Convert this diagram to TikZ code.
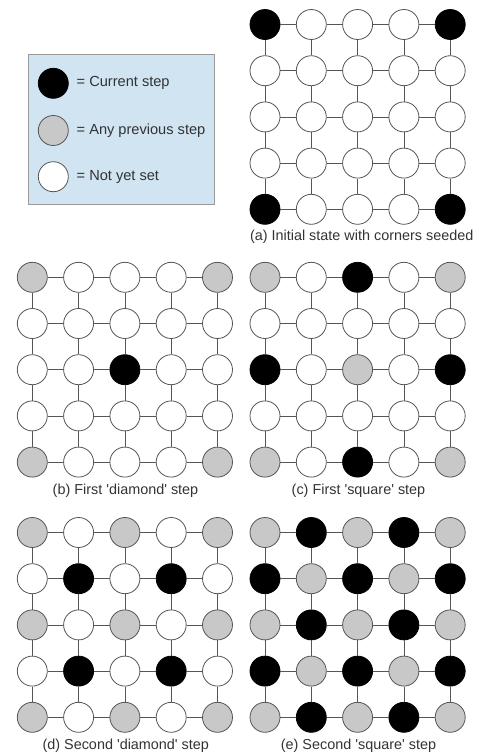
\documentclass[tikz,border=0pt]{standalone}
\usepackage{fontspec}
\setmainfont{Liberation Sans}
\definecolor{legendfill}{HTML}{D0E4F2}
\definecolor{legendline}{HTML}{9A9A9A}
\definecolor{prevgray}{HTML}{C8C8C8}
\definecolor{edgegray}{HTML}{555555}
\definecolor{txt}{HTML}{333333}
\newcommand{\sq}{\textquotesingle}
\begin{document}
\begin{tikzpicture}[x=1pt,y=-1pt,
  cell/.style={circle,draw=edgegray,line width=0.8pt,minimum size=30pt,inner sep=0pt},
  cw/.style={cell,fill=white},
  cg/.style={cell,fill=prevgray},
  cb/.style={cell,fill=black,draw=black},
  link/.style={draw=edgegray,line width=0.8pt},
  caption/.style={font=\fontsize{14.4}{16}\selectfont,text=txt,inner sep=0pt},
  legtext/.style={font=\fontsize{14.6}{17}\selectfont,text=txt,anchor=west,inner sep=0pt}]
\useasboundingbox (0,0) rectangle (479,756);

% legend
\node[draw=legendline,fill=legendfill,line width=0.7pt,minimum width=185.7pt,minimum height=150pt,inner sep=0pt,anchor=north west] (legend) at (28.3,54) {};
\node[cb] (L1) at (53.3,83.3) {};
\node[cg] (L2) at (53.3,130.5) {};
\node[cw] (L3) at (53.3,176.7) {};
\node[legtext] (T1) at (76.5,83.3) {= Current step};
\node[legtext] (T2) at (76.5,130.5) {= Any previous step};
\node[legtext] (T3) at (76.5,176.7) {= Not yet set};

\newcommand{\drawgrid}[4]{%
  \foreach \s [count=\i from 0] in {#4} {%
    \pgfmathtruncatemacro\rr{int(\i/5)}%
    \pgfmathtruncatemacro\cc{mod(\i,5)}%
    \node[\s] (#1-\rr-\cc) at ({#2+\cc*46.3},{#3+\rr*46.2}) {};
  }%
  \foreach \rr in {0,...,4} {\foreach \cc [evaluate=\cc as \nn using int(\cc+1)] in {0,...,3} {%
    \path[link] (#1-\rr-\cc) -- (#1-\rr-\nn);
    \path[link] (#1-\cc-\rr) -- (#1-\nn-\rr);
  }}%
}

% (a)
\drawgrid{A}{265}{24.5}{cb,cw,cw,cw,cb, cw,cw,cw,cw,cw, cw,cw,cw,cw,cw, cw,cw,cw,cw,cw, cb,cw,cw,cw,cb}
\node[caption] (capA) at (361.7,237) {(a) Initial state with corners seeded};

% (b)
\drawgrid{B}{32.3}{277.3}{cg,cw,cw,cw,cg, cw,cw,cw,cw,cw, cw,cw,cb,cw,cw, cw,cw,cw,cw,cw, cg,cw,cw,cw,cg}
\node[caption] (capB) at (125.5,491) {(b) First \sq diamond\sq{} step};

% (c)
\drawgrid{C}{265}{277.3}{cg,cw,cb,cw,cg, cw,cw,cw,cw,cw, cb,cw,cg,cw,cb, cw,cw,cw,cw,cw, cg,cw,cb,cw,cg}
\node[caption] (capC) at (358.5,491) {(c) First \sq square\sq{} step};

% (d)
\drawgrid{D}{32.3}{532.5}{cg,cw,cg,cw,cg, cw,cb,cw,cb,cw, cg,cw,cg,cw,cg, cw,cb,cw,cb,cw, cg,cw,cg,cw,cg}
\node[caption] (capD) at (125.8,745.5) {(d) Second \sq diamond\sq{} step};

% (e)
\drawgrid{E}{265}{532.5}{cg,cb,cg,cb,cg, cb,cg,cb,cg,cb, cg,cb,cg,cb,cg, cb,cg,cb,cg,cb, cg,cb,cg,cb,cg}
\node[caption] (capE) at (358.5,745.5) {(e) Second \sq square\sq{} step};
\end{tikzpicture}
\end{document}
